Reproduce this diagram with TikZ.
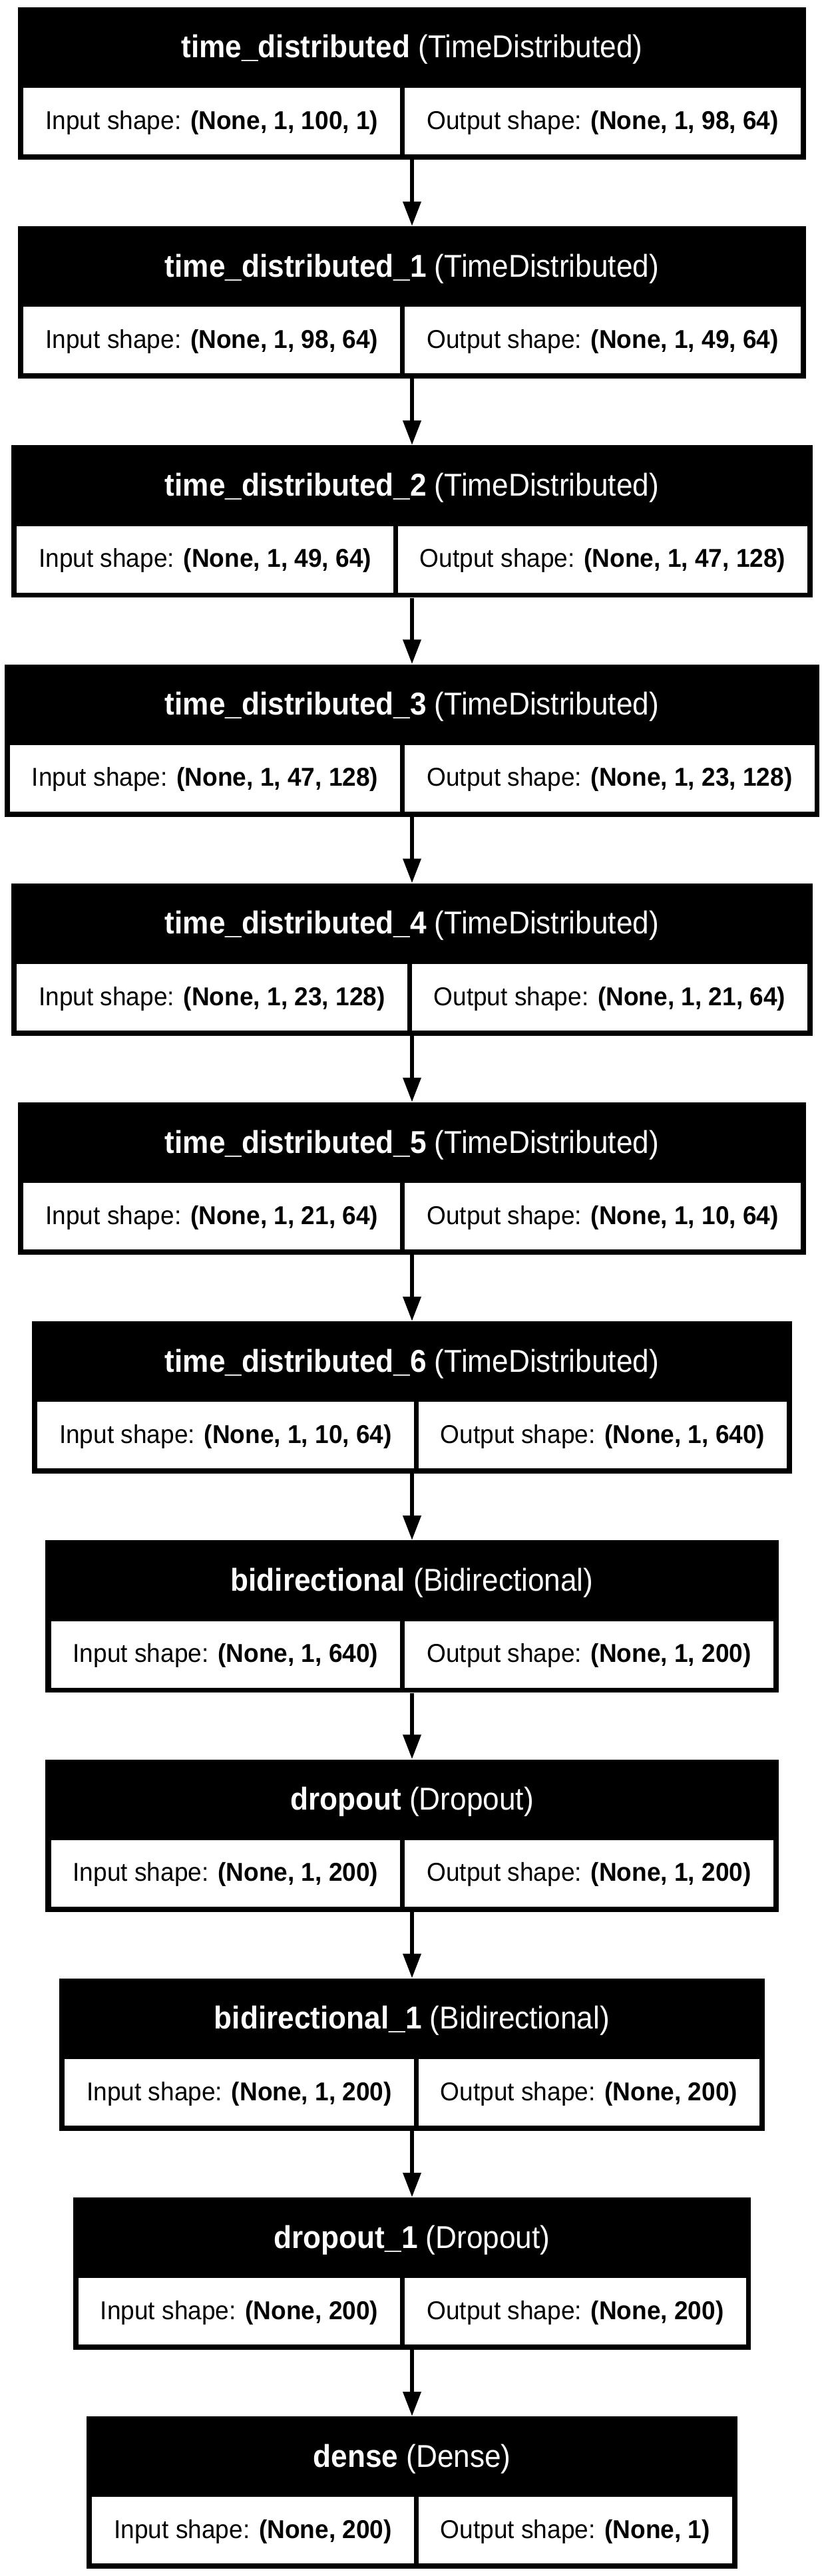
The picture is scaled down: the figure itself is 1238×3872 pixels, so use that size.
\documentclass[tikz,border=0pt]{standalone}
\usepackage{fontspec}
\usetikzlibrary{arrows.meta}
\newfontfamily\bodyfam{Liberation Sans}[FakeStretch=0.955]
\newfontfamily\hdrfam{Liberation Sans}[FakeStretch=0.93]
\newcommand\bodyfnt{\bodyfam\fontsize{38.8pt}{46pt}\selectfont}
\newcommand\hdrfnt{\hdrfam\fontsize{47.5pt}{56pt}\selectfont}
\newsavebox\lyrbox
\newcommand\measure[3]{%
  \sbox\lyrbox{\bodyfnt Input shape: \textbf{#2}}%
  \expandafter\xdef\csname wI#1\endcsname{\the\wd\lyrbox}%
  \sbox\lyrbox{\bodyfnt Output shape: \textbf{#3}}%
  \expandafter\xdef\csname wO#1\endcsname{\the\wd\lyrbox}%
}
\tikzset{
  layerbox/.style={rectangle, fill=black, draw=none, inner sep=0pt, minimum height=229pt},
  hdrtext/.style={inner sep=0pt, text=white, font=\hdrfnt, text height=35pt, text depth=12pt},
  shapecell/.style={rectangle, fill=white, draw=none, inner sep=0pt, minimum height=100pt,
    text height=32pt, text depth=8pt, font=\bodyfnt, anchor=north west},
  flow/.style={line width=6.5pt, -{Triangle[length=37pt,width=26pt]}},
}
\newcommand\mylayer[6]{%
  \pgfmathsetmacro\lyrcwa{\csname wI#1\endcsname+66}%
  \pgfmathsetmacro\lyrcwb{\csname wO#1\endcsname+66}%
  \pgfmathsetmacro\lyrW{\lyrcwa+\lyrcwb+23}%
  \pgfmathsetmacro\lyrxl{619-\lyrW/2}%
  \node[layerbox, minimum width=\lyrW pt] (L#1) at (619, #2+114.5) {};
  \node[hdrtext] (H#1) at (619, #2+64.5) {\textbf{#3} #4};
  \node[shapecell, minimum width=\lyrcwa pt] (I#1) at (\lyrxl+8, #2+121) {Input shape: \textbf{#5}};
  \node[shapecell, minimum width=\lyrcwb pt] (O#1) at (\lyrxl+15+\lyrcwa, #2+121) {Output shape: \textbf{#6}};
}
\begin{document}
\measure{0}{(None, 1, 100, 1)}{(None, 1, 98, 64)}%
\measure{1}{(None, 1, 98, 64)}{(None, 1, 49, 64)}%
\measure{2}{(None, 1, 49, 64)}{(None, 1, 47, 128)}%
\measure{3}{(None, 1, 47, 128)}{(None, 1, 23, 128)}%
\measure{4}{(None, 1, 23, 128)}{(None, 1, 21, 64)}%
\measure{5}{(None, 1, 21, 64)}{(None, 1, 10, 64)}%
\measure{6}{(None, 1, 10, 64)}{(None, 1, 640)}%
\measure{7}{(None, 1, 640)}{(None, 1, 200)}%
\measure{8}{(None, 1, 200)}{(None, 1, 200)}%
\measure{9}{(None, 1, 200)}{(None, 200)}%
\measure{10}{(None, 200)}{(None, 200)}%
\measure{11}{(None, 200)}{(None, 1)}%
\begin{tikzpicture}[x=1pt, y=-1pt]
\useasboundingbox (0,0) rectangle (1238,3872);
\fill[white] (0,0) rectangle (1238,3872);
\mylayer{0}{11}{time\_distributed}{(TimeDistributed)}{(None, 1, 100, 1)}{(None, 1, 98, 64)}
\mylayer{1}{340.2}{time\_distributed\_1}{(TimeDistributed)}{(None, 1, 98, 64)}{(None, 1, 49, 64)}
\mylayer{2}{669.4}{time\_distributed\_2}{(TimeDistributed)}{(None, 1, 49, 64)}{(None, 1, 47, 128)}
\mylayer{3}{998.6}{time\_distributed\_3}{(TimeDistributed)}{(None, 1, 47, 128)}{(None, 1, 23, 128)}
\mylayer{4}{1327.8}{time\_distributed\_4}{(TimeDistributed)}{(None, 1, 23, 128)}{(None, 1, 21, 64)}
\mylayer{5}{1657}{time\_distributed\_5}{(TimeDistributed)}{(None, 1, 21, 64)}{(None, 1, 10, 64)}
\mylayer{6}{1986.2}{time\_distributed\_6}{(TimeDistributed)}{(None, 1, 10, 64)}{(None, 1, 640)}
\mylayer{7}{2315.4}{bidirectional}{(Bidirectional)}{(None, 1, 640)}{(None, 1, 200)}
\mylayer{8}{2644.6}{dropout}{(Dropout)}{(None, 1, 200)}{(None, 1, 200)}
\mylayer{9}{2973.8}{bidirectional\_1}{(Bidirectional)}{(None, 1, 200)}{(None, 200)}
\mylayer{10}{3303}{dropout\_1}{(Dropout)}{(None, 200)}{(None, 200)}
\mylayer{11}{3632.2}{dense}{(Dense)}{(None, 200)}{(None, 1)}
\foreach \a/\b in {0/1,1/2,2/3,3/4,4/5,5/6,6/7,7/8,8/9,9/10,10/11}
  \draw[flow] (L\a.south) -- (L\b.north);
\end{tikzpicture}
\end{document}
